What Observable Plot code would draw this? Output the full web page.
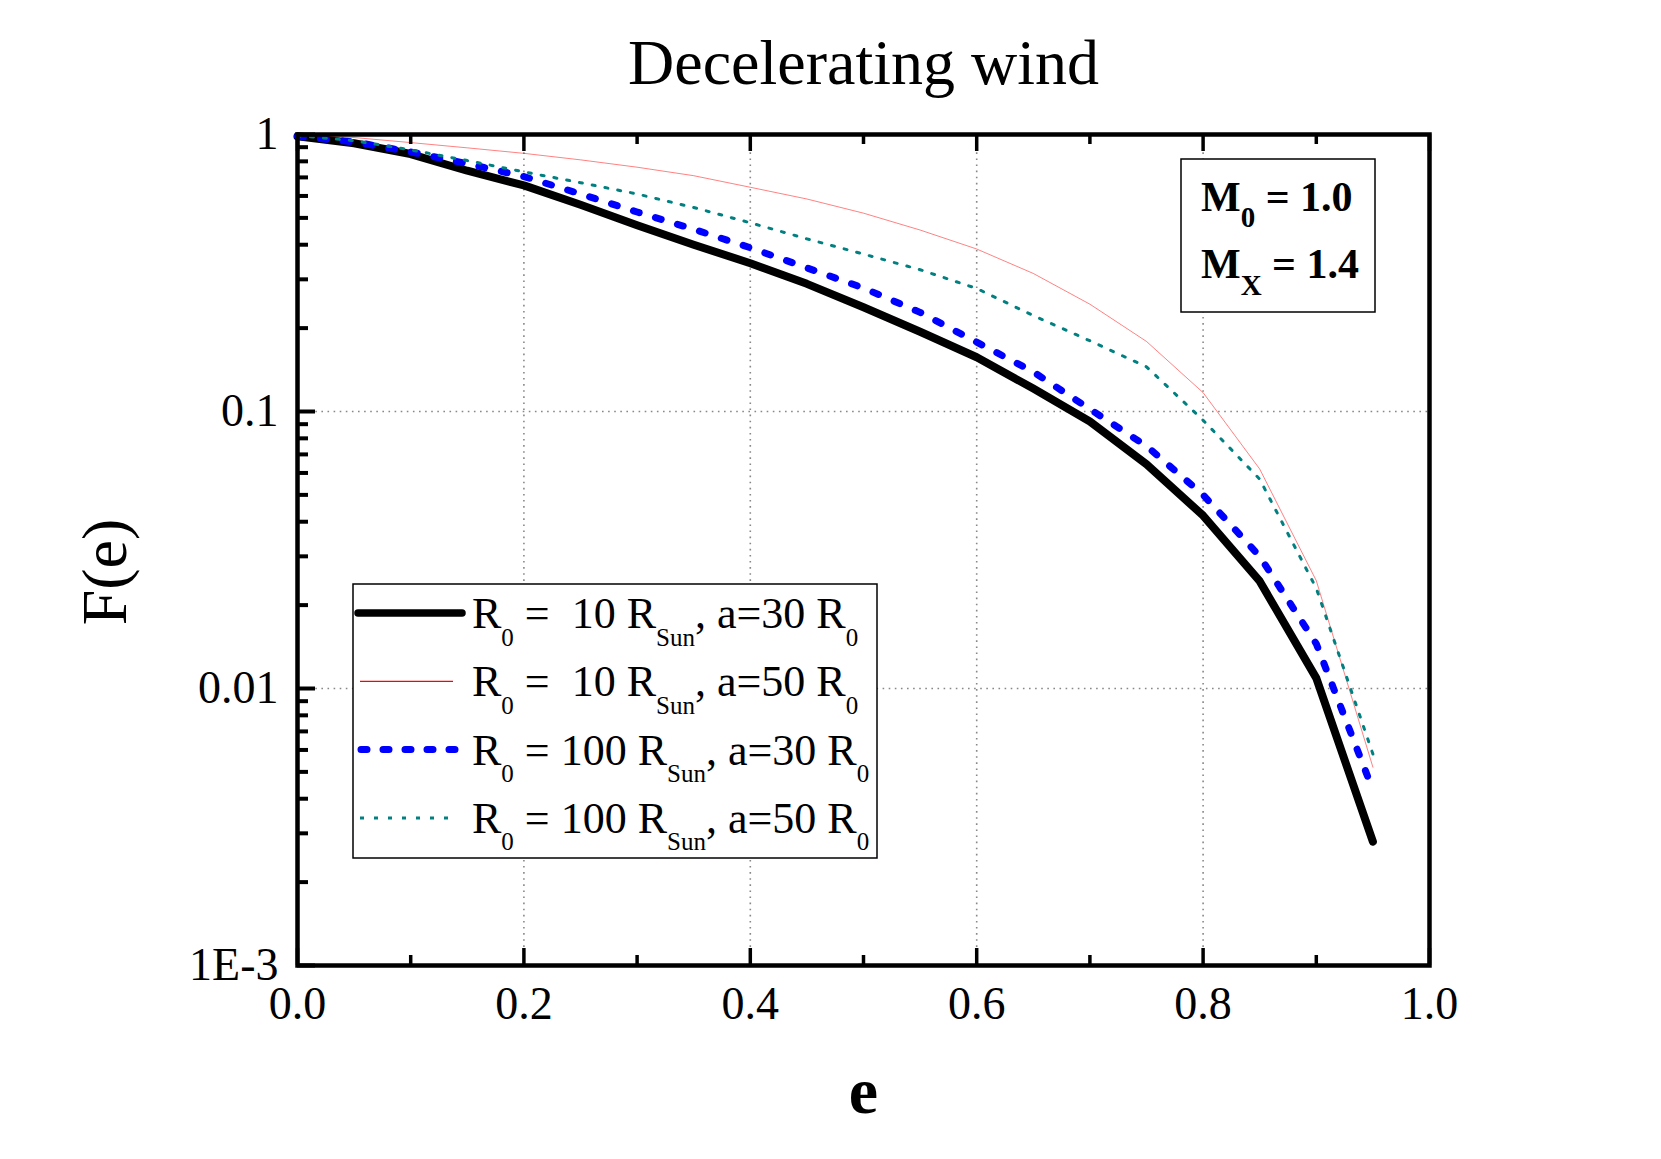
<!DOCTYPE html>
<html><head><meta charset="utf-8">
<script src="https://cdn.jsdelivr.net/npm/d3@7"></script>
<script src="https://cdn.jsdelivr.net/npm/@observablehq/plot@0.6"></script>
<style>body{margin:0;background:#fff}#chart svg{display:block}</style>
</head><body><div id="chart"></div>
<script>
// ---------- data ----------
const eValues   = [0, 0.05, 0.1, 0.15, 0.2, 0.25, 0.3, 0.35, 0.4, 0.45, 0.5, 0.55, 0.6, 0.65, 0.7, 0.75, 0.8, 0.85, 0.9, 0.95];
const fR10a30   = [0.985, 0.93, 0.85, 0.74, 0.655, 0.558, 0.47, 0.40, 0.343, 0.289, 0.238, 0.194, 0.157, 0.121, 0.092, 0.0645, 0.0421, 0.0244, 0.0109, 0.0028];
const fR10a50   = [0.995, 0.975, 0.935, 0.895, 0.855, 0.81, 0.762, 0.71, 0.645, 0.585, 0.52, 0.452, 0.386, 0.315, 0.244, 0.179, 0.117, 0.062, 0.0245, 0.0052];
const fR100a30  = [0.985, 0.94, 0.865, 0.785, 0.705, 0.61, 0.525, 0.455, 0.39, 0.33, 0.279, 0.228, 0.178, 0.139, 0.102, 0.075, 0.050, 0.030, 0.0145, 0.0043];
const fR100a50  = [0.99, 0.95, 0.88, 0.805, 0.733, 0.67, 0.61, 0.545, 0.48, 0.42, 0.37, 0.325, 0.278, 0.222, 0.18, 0.145, 0.093, 0.057, 0.023, 0.0058];
const legendR0  = [" 10", " 10", "100", "100"];
const legendA   = ["30", "50", "30", "50"];
const xTickValues = [0, 0.2, 0.4, 0.6, 0.8, 1.0];
const xTickLabels = ["0.0", "0.2", "0.4", "0.6", "0.8", "1.0"];
const xMinorTicks = [0.1, 0.3, 0.5, 0.7, 0.9];
const yTickValues = [1, 0.1, 0.01, 0.001];
const yTickLabels = ["1", "0.1", "0.01", "1E-3"];
const yMinorTicks = [0.002,0.003,0.004,0.005,0.006,0.007,0.008,0.009,0.02,0.03,0.04,0.05,0.06,0.07,0.08,0.09,0.2,0.3,0.4,0.5,0.6,0.7,0.8,0.9];
const xGrid = [0.2, 0.4, 0.6, 0.8];
const yGrid = [0.1, 0.01];
const titleText = "Decelerating wind";
const xLabel = "e";
const yLabel = "F(e)";
const m0Text = "1.0";
const mxText = "1.4";

// ---------- layout ----------
const W = 1661, H = 1159;
const mT = 134, mR = 232, mB = 194, mL = 297;
const pw = W - mL - mR, ph = H - mT - mB;
const FONT = "Liberation Serif";

const rows = (ys) => eValues.map((e, i) => ({e, f: ys[i]}));

const xFmt = d => xTickLabels[xTickValues.findIndex(v => Math.abs(v - d) < 1e-9)];
const yFmt = d => yTickLabels[yTickValues.findIndex(v => Math.abs(v - d) < 1e-12)];

const svg = Plot.plot({
  width: W, height: H,
  marginTop: mT, marginRight: mR, marginBottom: mB, marginLeft: mL,
  style: {fontFamily: FONT, background: "#fff", color: "#000"},
  x: {domain: [0, 1]},
  y: {type: "log", domain: [0.001, 1]},
  marks: [
    Plot.ruleX(xGrid, {x: d => d, stroke: "#888", strokeWidth: 1.6, strokeDasharray: "1.6,4.5"}),
    Plot.ruleY(yGrid, {y: d => d, stroke: "#888", strokeWidth: 1.6, strokeDasharray: "1.6,4.5"}),
    Plot.line(rows(fR10a30), {x: "e", y: "f", stroke: "#000", strokeWidth: 8, strokeLinecap: "round", strokeLinejoin: "round"}),
    Plot.line(rows(fR10a50), {x: "e", y: "f", stroke: "#ff0000", strokeWidth: 0.9, strokeOpacity: 0.55}),
    Plot.line(rows(fR100a30), {x: "e", y: "f", stroke: "#0000ff", strokeWidth: 7, strokeDasharray: "6,17", strokeLinecap: "round", strokeLinejoin: "round"}),
    Plot.line(rows(fR100a50), {x: "e", y: "f", stroke: "#008080", strokeWidth: 3, strokeDasharray: "3,10"}),
    // ticks (inward)
    Plot.tickX(xTickValues, {x: d => d, insetTop: ph - 17, strokeWidth: 3.5}),
    Plot.tickX(xMinorTicks, {x: d => d, insetTop: ph - 10, strokeWidth: 3.5}),
    Plot.tickX(xTickValues, {x: d => d, insetBottom: ph - 17, strokeWidth: 3.5}),
    Plot.tickX(xMinorTicks, {x: d => d, insetBottom: ph - 10, strokeWidth: 3.5}),
    Plot.tickY(yTickValues, {y: d => d, insetRight: pw - 18, strokeWidth: 4}),
    Plot.tickY(yMinorTicks, {y: d => d, insetRight: pw - 11, strokeWidth: 4}),
    Plot.frame({stroke: "#000", strokeWidth: 4.5}),
    Plot.axisX({ticks: xTickValues, tickFormat: xFmt, tickSize: 0, tickPadding: 21, fontSize: 46, label: null}),
    Plot.axisY({ticks: yTickValues, tickFormat: yFmt, tickSize: 0, tickPadding: 19, fontSize: 46, label: null}),
    Plot.text([titleText], {text: d => d, frameAnchor: "top", dy: 83 - mT, lineAnchor: "bottom", fontSize: 64}),
    Plot.text([xLabel], {text: d => d, frameAnchor: "bottom", dy: 1112 - (H - mB), lineAnchor: "bottom", fontSize: 66, fontWeight: "bold"}),
    Plot.text([yLabel], {text: d => d, frameAnchor: "left", dx: 125 - mL, dy: 22, rotate: -90, lineAnchor: "bottom", textAnchor: "middle", fontSize: 64})
  ]
});

document.getElementById("chart").appendChild(svg);

// ---------- legend & annotation box ----------
const g = d3.select(svg).append("g").attr("font-family", FONT).attr("fill", "#000").attr("text-anchor", "start");

// legend
const lx0 = 353, ly0 = 584, lx1 = 877, ly1 = 858;
g.append("rect").attr("x", lx0).attr("y", ly0).attr("width", lx1 - lx0).attr("height", ly1 - ly0)
  .attr("fill", "#fff").attr("stroke", "#000").attr("stroke-width", 1.5);

const sampleStyles = [
  {stroke: "#000", w: 7.5, dash: null, cap: "round", x1: 358, x2: 462},
  {stroke: "#ff0000", w: 1.2, dash: null, cap: "butt", x1: 360, x2: 453},
  {stroke: "#0000ff", w: 7, dash: "6,16", cap: "round", x1: 361, x2: 462},
  {stroke: "#008080", w: 3, dash: "4,10", cap: "butt", x1: 360, x2: 455}
];
const rowStep = 68.3;
legendR0.forEach((r0, i) => {
  const base = 628 + i * rowStep;
  const s = sampleStyles[i];
  const ln = g.append("line").attr("x1", s.x1).attr("x2", s.x2).attr("y1", base - 15).attr("y2", base - 15)
    .attr("stroke", s.stroke).attr("stroke-width", s.w).attr("stroke-linecap", s.cap);
  if (s.dash) ln.attr("stroke-dasharray", s.dash);
  const t = g.append("text").attr("x", 472).attr("y", base).attr("font-size", 44).style("white-space", "pre");
  const sub = 17.5, subSize = 25;
  t.append("tspan").text("R");
  t.append("tspan").attr("font-size", subSize).attr("dy", sub).text("0");
  t.append("tspan").attr("dy", -sub).text(` = ${r0} R`);
  t.append("tspan").attr("font-size", subSize).attr("dy", sub).text("Sun");
  t.append("tspan").attr("dy", -sub).text(`, a=${legendA[i]} R`);
  t.append("tspan").attr("font-size", subSize).attr("dy", sub).text("0");
});

// M box
g.append("rect").attr("x", 1181).attr("y", 159).attr("width", 194).attr("height", 153)
  .attr("fill", "#fff").attr("stroke", "#000").attr("stroke-width", 1.5);
[["0", m0Text, 211], ["X", mxText, 278]].forEach(([s, v, base]) => {
  const t = g.append("text").attr("x", 1201).attr("y", base).attr("font-size", 42).attr("font-weight", "bold").style("white-space", "pre");
  t.append("tspan").text("M");
  t.append("tspan").attr("font-size", 29).attr("dy", s === "0" ? 16 : 17).text(s);
  t.append("tspan").attr("dy", s === "0" ? -16 : -17).text(` = ${v}`);
});
</script>
</body></html>
